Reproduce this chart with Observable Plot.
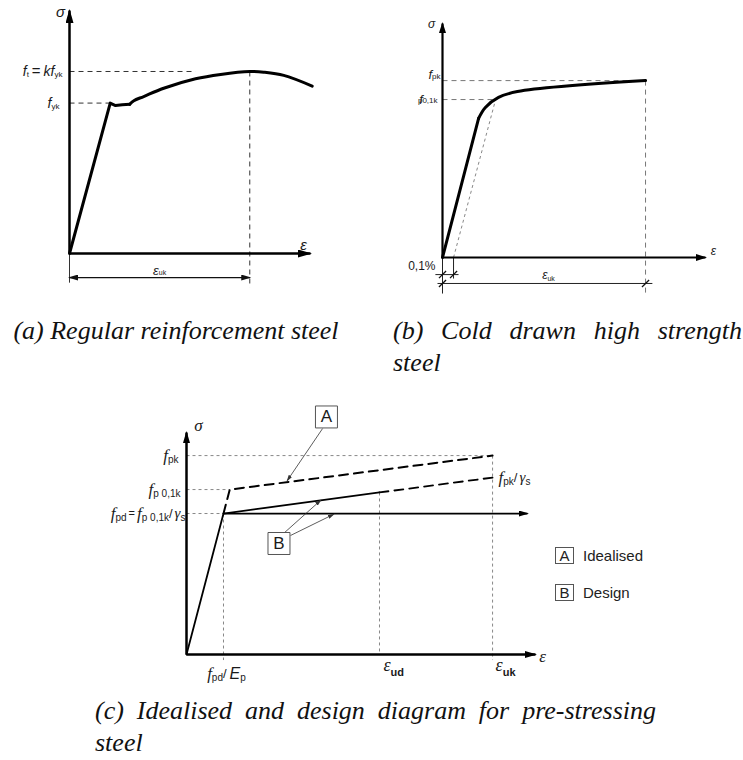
<!DOCTYPE html>
<html>
<head>
<meta charset="utf-8">
<script src="https://cdn.jsdelivr.net/npm/d3@7"></script>
<script src="https://cdn.jsdelivr.net/npm/@observablehq/plot@0.6"></script>
<style>
  body { margin: 0; background: #fff; }
  #page { position: relative; width: 743px; height: 760px; overflow: hidden; background: #fff; }
  .panel { position: absolute; }
  .panel svg { overflow: visible; display: block; }
  .cap { position: absolute; font-family: "Liberation Serif", "Times New Roman", serif; font-style: italic;
         font-size: 26px; line-height: 32px; color: #111; }
  .just { text-align: justify; }
  .legend { position: absolute; left: 555px; top: 546px; font-family: "Liberation Sans", Arial, sans-serif;
            font-size: 15px; color: #222; }
  .legend .row { display: flex; align-items: center; height: 18px; margin-bottom: 19px; }
  .legend .box { box-sizing: border-box; width: 19px; height: 17px; border: 1px solid #555; text-align: center;
                 line-height: 15px; font-size: 15px; margin-right: 9px; }
</style>
</head>
<body>
<div id="page">
  <div class="panel" id="pa" style="left:0;top:0"></div>
  <div class="panel" id="pb" style="left:380px;top:0"></div>
  <div class="panel" id="pc" style="left:90px;top:400px"></div>
  <div class="cap" style="left:0;top:315px;width:352px;text-align:center">(a) Regular reinforcement steel</div>
  <div class="cap just" style="left:393px;top:315px;width:349px">(b) Cold drawn high strength steel</div>
  <div class="cap just" style="left:95px;top:695px;width:561px">(c) Idealised and design diagram for pre-stressing steel</div>
  <div class="legend">
    <div class="row"><span class="box">A</span><span>Idealised</span></div>
    <div class="row"><span class="box">B</span><span>Design</span></div>
  </div>
</div>
<script>
// Strain (ε) and stress (σ) are in relative units: each axis runs from 0 to 100.

// (a) Regular reinforcement steel
const regElasticEps = [0, 16.9, 19.1, 21.9, 25.0];
const regElasticSig = [0, 61.9, 60.9, 61.2, 61.4];
const regHardEps = [25.0, 26.7, 30.8, 39.1, 52.3, 62.7, 74.8, 80.6, 88.9, 100.7];
const regHardSig = [61.4, 62.9, 64.6, 68.0, 71.9, 73.7, 74.9, 74.6, 73.3, 68.9];
const regFyk = 61.9, regFt = 74.9, regEpsUk = 74.8;

// (b) Cold drawn high strength steel
const coldElasticEps = [0, 13.7];
const coldElasticSig = [0, 59.4];
const coldKneeEps = [13.7, 16.3, 21.3, 28.5, 77.2];
const coldKneeSig = [59.4, 64.1, 68.4, 70.9, 75.6];
const coldFpk = 75.6, coldFp01 = 67.5, coldEpsUk = 77.2, coldOffset = 4.2, coldOffsetMeet = 20.2;

// (c) Idealised and design diagram for pre-stressing steel
const psEpsPd = 10.6, psEpsP01 = 12.4, psEpsUd = 55.3, psEpsUk = 87.7;
const psFpk = 89.6, psFp01 = 74.3, psFpd = 63.5, psFpkGs = 79.7, psSigUd = 73.0, psArrowEnd = 97.7;
const idealEps = [psEpsPd, psEpsP01, psEpsUk];
const idealSig = [psFpd, psFp01, psFpk];
const designEps = [0, psEpsPd, psEpsUd];
const designSig = [0, psFpd, psSigUd];

const zip = (xs, ys) => xs.map((x, i) => ({x, y: ys[i]}));
const SANS = '"Liberation Sans", Arial, sans-serif';
const SERIF = '"Liberation Serif", "Times New Roman", serif';
const SVGNS = "http://www.w3.org/2000/svg";

// Filled triangular arrowhead (tip slightly past the line end)
function headMarker(len, wid) {
  return (color, context) => {
    const doc = (context && context.document) || document;
    const m = doc.createElementNS(SVGNS, "marker");
    m.setAttribute("viewBox", `${-len} ${-wid / 2} ${len + 2} ${wid}`);
    m.setAttribute("markerWidth", len + 2);
    m.setAttribute("markerHeight", wid);
    m.setAttribute("markerUnits", "userSpaceOnUse");
    m.setAttribute("refX", -1.5);
    m.setAttribute("refY", 0);
    m.setAttribute("orient", "auto-start-reverse");
    const p = doc.createElementNS(SVGNS, "path");
    p.setAttribute("d", `M0,0L${-len},${-wid / 2}L${-len},${wid / 2}Z`);
    p.setAttribute("fill", color);
    p.setAttribute("stroke", "none");
    m.appendChild(p);
    return m;
  };
}

// Architectural slash tick for dimension lines
const slashSymbol = {
  draw(context, size) {
    const r = Math.sqrt(size) / 2;
    context.moveTo(-r, r);
    context.lineTo(r, -r);
  }
};

// Labels with subscripts: one text mark per part, offset by measured widths
const measureCtx = document.createElement("canvas").getContext("2d");
function textWidth(t, p) {
  measureCtx.font = `${p.style || "normal"} ${p.weight || "normal"} ${p.size}px ${p.family || SANS}`;
  return measureCtx.measureText(t).width;
}
function richText(datum, parts, {anchor = "start", dx = 0, dy = 0, fill = "#1a1a1a"} = {}) {
  const widths = parts.map((p) => textWidth(p.t, p) + (p.gap || 0));
  const total = d3.sum(widths);
  let off = anchor === "end" ? -total : anchor === "middle" ? -total / 2 : 0;
  return parts.map((p, i) => {
    const o = off;
    off += widths[i];
    return Plot.text([datum], {
      x: "x", y: "y", text: () => p.t, textAnchor: "start", lineAnchor: "middle",
      dx: dx + o, dy: dy + (p.dy || 0), fontSize: p.size, fontFamily: p.family || SANS,
      fontStyle: p.style || "normal", fontWeight: p.weight || "normal", fill
    });
  });
}
const linkOpts = {x1: "x1", y1: "y1", x2: "x2", y2: "y2"};

// ---------- (a) ----------
const chartA = Plot.plot({
  width: 330, height: 300, margin: 0,
  x: {domain: [0, 100], range: [69, 310], axis: null},
  y: {domain: [0, 100], range: [253, 10], axis: null},
  marks: [
    Plot.link([
      {x1: 0, y1: regFyk, x2: regElasticEps[1], y2: regFyk},
      {x1: 0, y1: regFt, x2: 52.3, y2: regFt},
      {x1: regEpsUk, y1: regFt, x2: regEpsUk, y2: -14}
    ], {...linkOpts, stroke: "#333", strokeWidth: 1, strokeDasharray: "5,4"}),
    Plot.link([{x1: 0, y1: 0, x2: 0, y2: -12}], {...linkOpts, stroke: "#333", strokeWidth: 1}),
    Plot.link([{x1: 0, y1: -9.9, x2: regEpsUk, y2: -9.9}], {
      ...linkOpts, stroke: "#111", strokeWidth: 1.2, markerStart: headMarker(10, 6), markerEnd: headMarker(10, 6)
    }),
    Plot.link([{x1: 0, y1: 0, x2: 0, y2: 100}, {x1: 0, y1: 0, x2: 100, y2: 0}], {
      ...linkOpts, stroke: "#000", strokeWidth: 2.5, markerEnd: headMarker(14, 8)
    }),
    Plot.line(zip(regElasticEps, regElasticSig), {x: "x", y: "y", stroke: "#000", strokeWidth: 3, strokeLinejoin: "round"}),
    Plot.line(zip(regHardEps, regHardSig), {x: "x", y: "y", stroke: "#000", strokeWidth: 3, curve: "catmull-rom"}),
    ...richText({x: 0, y: regFt}, [
      {t: "f", size: 14, style: "italic"}, {t: "t", size: 8, dy: 3, gap: 3},
      {t: "=", size: 15, gap: 3}, {t: "kf", size: 14, style: "italic"}, {t: "yk", size: 8, dy: 3}
    ], {anchor: "end", dx: -7}),
    ...richText({x: 0, y: regFyk}, [
      {t: "f", size: 14, style: "italic"}, {t: "yk", size: 8, dy: 3}
    ], {anchor: "end", dx: -10}),
    ...richText({x: regEpsUk / 2, y: -9.9}, [
      {t: "ε", size: 13, style: "italic"}, {t: "uk", size: 7, dy: 2}
    ], {anchor: "middle", dy: -7}),
    Plot.text([{x: 0, y: 100}], {x: "x", y: "y", text: () => "σ", dx: -9, dy: 2, fontSize: 15, fontStyle: "italic", fontFamily: SANS, fill: "#1a1a1a"}),
    Plot.text([{x: 100, y: 0}], {x: "x", y: "y", text: () => "ε", dx: -7, dy: -8, fontSize: 15, fontStyle: "italic", fontFamily: SANS, fill: "#1a1a1a"})
  ]
});
document.getElementById("pa").appendChild(chartA);

// ---------- (b) ----------
const chartB = Plot.plot({
  width: 363, height: 300, margin: 0,
  x: {domain: [0, 100], range: [62, 325], axis: null},
  y: {domain: [0, 100], range: [257, 23], axis: null},
  marks: [
    Plot.link([
      {x1: 0, y1: coldFpk, x2: coldEpsUk, y2: coldFpk},
      {x1: 0, y1: coldFp01, x2: coldOffsetMeet, y2: coldFp01},
      {x1: coldEpsUk, y1: coldFpk, x2: coldEpsUk, y2: -15}
    ], {...linkOpts, stroke: "#777", strokeWidth: 1, strokeDasharray: "5,4"}),
    Plot.link([{x1: coldOffset, y1: 0, x2: coldOffsetMeet, y2: coldFp01}], {
      ...linkOpts, stroke: "#888", strokeWidth: 1, strokeDasharray: "3,3"
    }),
    Plot.link([
      {x1: 0, y1: 0, x2: 0, y2: -15.4},
      {x1: coldOffset, y1: 0, x2: coldOffset, y2: -9},
      {x1: -2.7, y1: -7.3, x2: 6.1, y2: -7.3},
      {x1: -1.9, y1: -11.1, x2: 79.8, y2: -11.1}
    ], {...linkOpts, stroke: "#222", strokeWidth: 1}),
    Plot.dot([
      {x: 0, y: -7.3}, {x: coldOffset, y: -7.3}, {x: 0, y: -11.1}, {x: coldEpsUk, y: -11.1}
    ], {x: "x", y: "y", symbol: slashSymbol, r: 4, stroke: "#111", strokeWidth: 1.3, fill: "none"}),
    Plot.link([{x1: 0, y1: 0, x2: 0, y2: 100}, {x1: 0, y1: 0, x2: 100, y2: 0}], {
      ...linkOpts, stroke: "#000", strokeWidth: 2.2, markerEnd: headMarker(11, 7)
    }),
    Plot.line(zip(coldElasticEps, coldElasticSig), {x: "x", y: "y", stroke: "#000", strokeWidth: 3}),
    Plot.line(zip(coldKneeEps, coldKneeSig), {x: "x", y: "y", stroke: "#000", strokeWidth: 3, curve: "catmull-rom", strokeLinejoin: "round"}),
    ...richText({x: 0, y: coldFpk}, [
      {t: "f", size: 13, style: "italic"}, {t: "pk", size: 8, dy: 2}
    ], {anchor: "end", dx: -2, dy: -6}),
    ...richText({x: 0, y: coldFp01}, [
      {t: "f", size: 13, style: "italic", gap: -5}, {t: "p0,1k", size: 8, dy: 1}
    ], {anchor: "end", dx: -5}),
    Plot.text([{x: 0, y: -3.8}], {x: "x", y: "y", text: () => "0,1%", textAnchor: "end", dx: -7, fontSize: 12, fontFamily: SANS, fill: "#1a1a1a"}),
    ...richText({x: 40.3, y: -7.7}, [
      {t: "ε", size: 12, style: "italic"}, {t: "uk", size: 7, dy: 3}
    ], {anchor: "middle"}),
    Plot.text([{x: 0, y: 100}], {x: "x", y: "y", text: () => "σ", dx: -11, dy: 1, fontSize: 12, fontStyle: "italic", fontFamily: SANS, fill: "#1a1a1a"}),
    Plot.text([{x: 100, y: 0}], {x: "x", y: "y", text: () => "ε", dx: 8, dy: -6, fontSize: 12, fontStyle: "italic", fontFamily: SANS, fill: "#1a1a1a"})
  ]
});
document.getElementById("pb").appendChild(chartB);

// ---------- (c) ----------
const guideLinks = [
  {x1: 0, y1: psFpk, x2: psEpsUk, y2: psFpk},
  {x1: 0, y1: psFp01, x2: psEpsP01, y2: psFp01},
  {x1: 0, y1: psFpd, x2: psEpsPd, y2: psFpd},
  {x1: psEpsPd, y1: psFpd, x2: psEpsPd, y2: -2.5},
  {x1: psEpsUd, y1: psSigUd, x2: psEpsUd, y2: 0},
  {x1: psEpsUk, y1: psFpk, x2: psEpsUk, y2: -2.5}
];
const pointerLinks = [
  {x1: 39.0, y1: 101.8, x2: 28.9, y2: 78.4},
  {x1: 27.8, y1: 54.5, x2: 38.4, y2: 69.4},
  {x1: 29.8, y1: 53.6, x2: 42.1, y2: 63.1}
];
const boxLabels = [{x: 40.1, y: 107, t: "A"}, {x: 26.5, y: 50, t: "B"}];

const chartC = Plot.plot({
  width: 460, height: 280, margin: 0,
  x: {domain: [0, 100], range: [96, 445], axis: null},
  y: {domain: [0, 100], range: [254, 32], axis: null},
  marks: [
    Plot.link(guideLinks, {...linkOpts, stroke: "#888", strokeWidth: 1, strokeDasharray: "3,3"}),
    Plot.line(zip(idealEps, idealSig), {x: "x", y: "y", stroke: "#000", strokeWidth: 2, strokeDasharray: "9,6"}),
    Plot.line(zip(designEps, designSig), {x: "x", y: "y", stroke: "#000", strokeWidth: 1.8}),
    Plot.line(zip([psEpsUd, psEpsUk], [psSigUd, psFpkGs]), {x: "x", y: "y", stroke: "#000", strokeWidth: 1.8, strokeDasharray: "9,6"}),
    Plot.link([{x1: psEpsPd, y1: psFpd, x2: psArrowEnd, y2: psFpd}], {
      ...linkOpts, stroke: "#000", strokeWidth: 1.8, markerEnd: headMarker(10, 6)
    }),
    Plot.link([{x1: 0, y1: 0, x2: 0, y2: 100}, {x1: 0, y1: 0, x2: 100, y2: 0}], {
      ...linkOpts, stroke: "#000", strokeWidth: 2.5, markerEnd: headMarker(12, 7)
    }),
    Plot.link(pointerLinks, {...linkOpts, stroke: "#333", strokeWidth: 0.8, markerEnd: headMarker(7, 4)}),
    Plot.dot(boxLabels, {x: "x", y: "y", symbol: "square", r: 12.4, fill: "#fff", stroke: "#555", strokeWidth: 1}),
    Plot.text(boxLabels, {x: "x", y: "y", text: "t", fontSize: 17, fontFamily: SANS, fill: "#1a1a1a"}),
    ...richText({x: 0, y: psFpk}, [
      {t: "f", size: 17, style: "italic", family: SERIF}, {t: "pk", size: 10, dy: 4}
    ], {anchor: "end", dx: -8}),
    ...richText({x: 0, y: psFp01}, [
      {t: "f", size: 17, style: "italic", family: SERIF}, {t: "p 0,1k", size: 10, dy: 4}
    ], {anchor: "end", dx: -6}),
    ...richText({x: 0, y: psFpd}, [
      {t: "f", size: 17, style: "italic", family: SERIF}, {t: "pd", size: 10, dy: 4, gap: 2},
      {t: "=", size: 11, gap: 2}, {t: "f", size: 17, style: "italic", family: SERIF},
      {t: "p 0,1k", size: 10, dy: 4}, {t: "/", size: 13, gap: 2},
      {t: "γ", size: 15, style: "italic", family: SERIF}, {t: "s", size: 10, dy: 4}
    ], {anchor: "end", dx: -1}),
    ...richText({x: psEpsUk, y: psFpkGs}, [
      {t: "f", size: 17, style: "italic", family: SERIF}, {t: "pk", size: 10, dy: 4},
      {t: "/", size: 13, gap: 2}, {t: "γ", size: 15, style: "italic", family: SERIF}, {t: "s", size: 10, dy: 4}
    ], {anchor: "start", dx: 6}),
    ...richText({x: psEpsPd, y: 0}, [
      {t: "f", size: 17, style: "italic", family: SERIF}, {t: "pd", size: 10, dy: 4},
      {t: "/", size: 13, gap: 3}, {t: "E", size: 16, style: "italic"}, {t: "p", size: 10, dy: 4}
    ], {anchor: "middle", dx: 3, dy: 19}),
    ...richText({x: psEpsUd, y: 0}, [
      {t: "ε", size: 18, style: "italic", family: SERIF, dy: 11}, {t: "ud", size: 11, weight: "bold", dy: 18}
    ], {anchor: "start", dx: 4}),
    ...richText({x: psEpsUk, y: 0}, [
      {t: "ε", size: 18, style: "italic", family: SERIF, dy: 11}, {t: "uk", size: 11, weight: "bold", dy: 18}
    ], {anchor: "start", dx: 3}),
    Plot.text([{x: 0, y: 100}], {x: "x", y: "y", text: () => "σ", dx: 12, dy: -7, fontSize: 17, fontStyle: "italic", fontFamily: SERIF, fill: "#1a1a1a"}),
    Plot.text([{x: 100, y: 0}], {x: "x", y: "y", text: () => "ε", dx: 7, dy: 2, fontSize: 17, fontStyle: "italic", fontFamily: SERIF, fill: "#1a1a1a"})
  ]
});
document.getElementById("pc").appendChild(chartC);
</script>
</body>
</html>
